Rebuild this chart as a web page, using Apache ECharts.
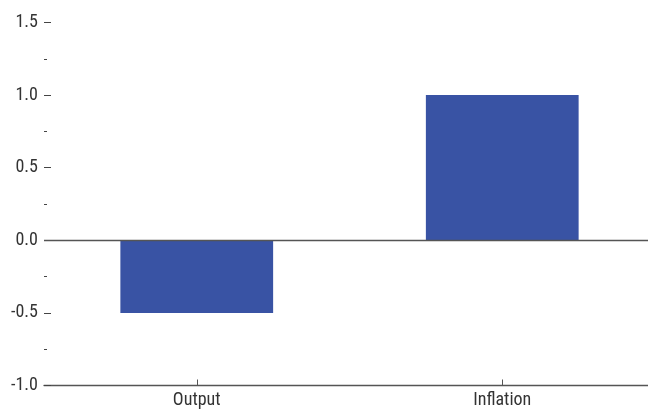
<!DOCTYPE html>
<html>
<head>
<meta charset="utf-8">
<script src="https://cdn.jsdelivr.net/npm/echarts@6/dist/echarts.min.js"></script>
<style>
html,body{margin:0;padding:0;background:#fff;}
#chart{width:648px;height:413px;}
</style>
</head>
<body>
<div id="chart"></div>
<script>
var categories = ['Output', 'Inflation'];
var values = [-0.5, 1.0];
var yMin = -1.0, yMax = 1.5, yStep = 0.5;

var FONT = '"Liberation Sans Narrow", "Arial Narrow", "Roboto Condensed", "Liberation Sans", sans-serif';
var chart = echarts.init(document.getElementById('chart'), null, {renderer: 'canvas'});
chart.setOption({
  animation: false,
  grid: {left: 44, width: 611, top: 22.5, height: 363, outerBoundsMode: 'none', containLabel: false},
  xAxis: {
    type: 'category',
    data: categories,
    position: 'bottom',
    axisLine: {onZero: false, lineStyle: {color: '#555', width: 1.3}},
    axisTick: {show: true, alignWithLabel: true, inside: true, length: 6, lineStyle: {color: '#555'}},
    axisLabel: {color: '#333', fontFamily: FONT, fontSize: 18, margin: 6}
  },
  yAxis: {
    type: 'value',
    min: yMin, max: yMax, interval: yStep,
    axisLine: {show: false},
    axisTick: {show: true, inside: true, length: 7, lineStyle: {color: '#444'}},
    minorTick: {show: true, splitNumber: 2, length: 3, lineStyle: {color: '#444'}},
    splitLine: {show: false},
    axisLabel: {color: '#333', fontFamily: FONT, fontSize: 18, margin: 6,
      formatter: function (v) { return v.toFixed(1); }}
  },
  series: [{
    type: 'bar',
    data: values,
    barWidth: '50%',
    itemStyle: {color: '#3953A4'},
    markLine: {
      silent: true,
      symbol: ['none', 'none'],
      label: {show: false},
      lineStyle: {color: '#555', width: 1.3, type: 'solid'},
      data: [{yAxis: 0}]
    }
  }]
});
</script>
</body>
</html>
